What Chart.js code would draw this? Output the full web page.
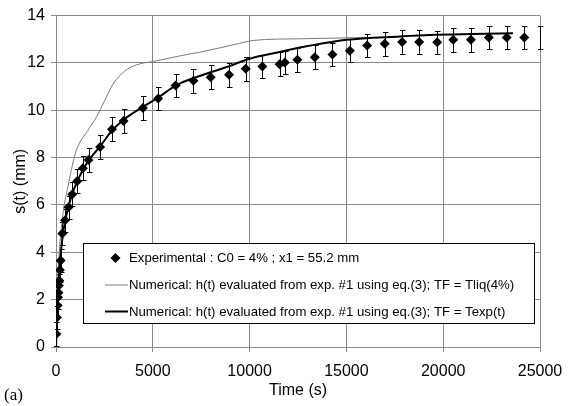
<!DOCTYPE html>
<html>
<head>
<meta charset="utf-8">
<script src="https://cdn.jsdelivr.net/npm/chart.js@4.4.1/dist/chart.umd.min.js"></script>
<style>
  body { margin: 0; background: #fff; }
  #wrap { position: relative; width: 575px; height: 406px; }
  #tag { position: absolute; left: 4px; top: 385px; font: 17px "Liberation Serif", serif; color: #000; }
</style>
</head>
<body>
<div id="wrap">
  <canvas id="chart" width="575" height="406"></canvas>
  <div id="tag">(a)</div>
</div>
<script>
// Tick values
const xTicks = [0, 5000, 10000, 15000, 20000, 25000];
const yTicks = [0, 2, 4, 6, 8, 10, 12, 14];

// Experimental points (s) and (mm), with error half-widths
const expTime = [20, 50, 80, 100, 120, 150, 170, 200, 240, 330, 470, 650, 840, 1090, 1390, 1680,
  2280, 2890, 3490, 4490, 5280, 6180, 7100, 7990, 8940, 9800, 10660, 11550, 11820, 12470, 13370,
  14280, 15180, 16070, 16980, 17880, 18760, 19690, 20520, 21430, 22360, 23280, 24190, 25000];
const expS = [0.55, 1.25, 1.75, 2.1, 2.3, 2.6, 2.8, 3.25, 3.65, 4.8, 5.35, 5.9, 6.45, 7.0, 7.55, 7.9,
  8.45, 9.2, 9.55, 10.1, 10.5, 11.05, 11.25, 11.4, 11.5, 11.75, 11.85, 11.95, 12.02, 12.13, 12.24,
  12.36, 12.52, 12.74, 12.81, 12.88, 12.89, 12.87, 12.98, 12.98, 13.08, 13.08, 13.08, 13.07];
const expErr = [0.5, 0.5, 0.5, 0.5, 0.5, 0.5, 0.5, 0.5, 0.5, 0.5, 0.5, 0.5, 0.5, 0.5, 0.5, 0.5,
  0.5, 0.5, 0.5, 0.5, 0.5, 0.5, 0.5, 0.5, 0.5, 0.5, 0.5, 0.5, 0.5, 0.5, 0.5,
  0.5, 0.5, 0.5, 0.5, 0.5, 0.5, 0.5, 0.5, 0.5, 0.5, 0.5, 0.5, 0.5];

// Numerical, TF = Tliq(4%)
const liqTime = [0, 50, 150, 300, 405, 610, 785, 1045, 1645, 2080, 2510, 2940, 3400, 3710, 4320,
  5000, 6900, 7420, 9490, 10175, 12590, 15000, 16000];
const liqS = [0, 2.0, 3.8, 5.2, 5.9, 6.75, 7.45, 8.3, 9.15, 9.7, 10.4, 11.1, 11.55, 11.75, 11.96,
  12.06, 12.38, 12.45, 12.83, 12.95, 13.02, 13.06, 13.08];

// Numerical, TF = Texp(t)
const texpTime = [0, 50, 150, 250, 400, 600, 850, 1100, 1400, 1700, 2300, 2900, 3500, 4500, 5300,
  6200, 7420, 8900, 10000, 11500, 12600, 13600, 15000, 17800, 19300, 21500, 23600];
const texpS = [0, 1.5, 3.0, 4.0, 5.0, 5.8, 6.5, 7.0, 7.5, 7.9, 8.5, 9.15, 9.6, 10.15, 10.55,
  11.05, 11.45, 11.85, 12.18, 12.45, 12.65, 12.8, 12.98, 13.12, 13.18, 13.22, 13.25];

const labels = [
  'Experimental : C0 = 4% ; x1 = 55.2 mm',
  'Numerical: h(t) evaluated from exp. #1 using eq.(3); TF = Tliq(4%)',
  'Numerical: h(t) evaluated from exp. #1 using eq.(3); TF = Texp(t)'
];

const FONT = '"Liberation Sans", Arial, sans-serif';

const errorBars = {
  id: 'errorBars',
  beforeDatasetsDraw(chart) {
    const {ctx, scales: {x, y}} = chart;
    ctx.save();
    ctx.strokeStyle = '#000';
    ctx.lineWidth = 1;
    expTime.forEach((t, i) => {
      const px = Math.round(x.getPixelForValue(t)) + 0.5;
      const top = Math.round(y.getPixelForValue(expS[i] + expErr[i])) + 0.5;
      const bot = Math.round(y.getPixelForValue(expS[i] - expErr[i])) + 0.5;
      ctx.beginPath();
      ctx.moveTo(px, top); ctx.lineTo(px, bot);
      ctx.moveTo(px - 2.5, top); ctx.lineTo(px + 3, top);
      ctx.moveTo(px - 2.5, bot); ctx.lineTo(px + 3, bot);
      ctx.stroke();
    });
    ctx.restore();
  }
};

// legend box drawn inside the plot, like the original
const boxLegend = {
  id: 'boxLegend',
  afterDraw(chart) {
    const ctx = chart.ctx;
    const bx = 83.5, by = 243.5, bw = 451, bh = 80;
    ctx.save();
    ctx.fillStyle = '#fff';
    ctx.fillRect(bx, by, bw, bh);
    ctx.strokeStyle = '#000';
    ctx.lineWidth = 1;
    ctx.strokeRect(bx, by, bw, bh);
    const rows = [258, 285, 311.5];
    ctx.font = '13.2px ' + FONT;
    ctx.fillStyle = '#000';
    ctx.textBaseline = 'middle';
    labels.forEach((text, i) => {
      const ds = chart.data.datasets.find(d => d.label === text);
      const ry = rows[i];
      if (i === 0) {
        ctx.beginPath();
        ctx.moveTo(115.5, ry - 5); ctx.lineTo(120.5, ry); ctx.lineTo(115.5, ry + 5); ctx.lineTo(110.5, ry);
        ctx.closePath();
        ctx.fill();
      } else {
        ctx.strokeStyle = ds.borderColor;
        ctx.lineWidth = ds.borderWidth;
        ctx.beginPath();
        ctx.moveTo(105, ry); ctx.lineTo(128, ry);
        ctx.stroke();
      }
      ctx.fillText(text, 129, ry + 0.5);
    });
    ctx.restore();
  }
};

new Chart(document.getElementById('chart'), {
  type: 'scatter',
  data: {
    datasets: [
      {
        label: labels[0],
        data: expTime.map((t, i) => ({x: t, y: expS[i]})),
        pointStyle: 'rectRot',
        pointRadius: expTime.map((t, i) => i === expTime.length - 1 ? 0 : 5),
        backgroundColor: '#000',
        borderColor: '#000',
        borderWidth: 0,
        showLine: false
      },
      {
        label: labels[2],
        data: texpTime.map((t, i) => ({x: t, y: texpS[i]})),
        showLine: true,
        pointRadius: 0,
        borderColor: '#000',
        borderWidth: 2,
        cubicInterpolationMode: 'monotone'
      },
      {
        label: labels[1],
        data: liqTime.map((t, i) => ({x: t, y: liqS[i]})),
        showLine: true,
        pointRadius: 0,
        borderColor: '#7a7a7a',
        borderWidth: 1,
        cubicInterpolationMode: 'monotone'
      }
    ]
  },
  options: {
    responsive: false,
    animation: false,
    layout: {padding: {top: 15, right: 35, left: 0, bottom: 0}},
    plugins: {legend: {display: false}, tooltip: {enabled: false}},
    scales: {
      x: {
        type: 'linear', min: 0, max: 25000,
        afterFit: s => { s.height = 59; },
        afterBuildTicks: s => { s.ticks = xTicks.map(v => ({value: v})); },
        grid: {color: '#888', tickColor: '#888', tickLength: 5},
        border: {color: '#888'},
        ticks: {color: '#000', font: {family: FONT, size: 16}, padding: 10, maxRotation: 0,
          callback: v => String(v)},
        title: {display: true, text: 'Time (s)', color: '#000', font: {family: FONT, size: 16},
          padding: {top: 0, bottom: 6}}
      },
      y: {
        type: 'linear', min: 0, max: 14,
        afterFit: s => { s.width = 56; },
        afterBuildTicks: s => { s.ticks = yTicks.map(v => ({value: v})); },
        grid: {color: '#888', tickColor: '#888', tickLength: 5},
        border: {color: '#888'},
        ticks: {color: '#000', font: {family: FONT, size: 16}, padding: 6,
          callback: v => String(v)},
        title: {display: true, text: 's(t) (mm)', color: '#000', font: {family: FONT, size: 16},
          padding: {top: 11, bottom: 0}}
      }
    }
  },
  plugins: [errorBars, boxLegend]
});
</script>
</body>
</html>
